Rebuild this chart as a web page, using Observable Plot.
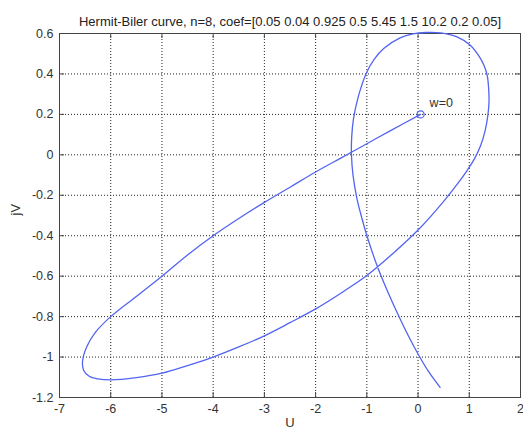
<!DOCTYPE html>
<html><head><meta charset="utf-8">
<script src="https://cdn.jsdelivr.net/npm/d3@7"></script>
<script src="https://cdn.jsdelivr.net/npm/@observablehq/plot@0.6"></script>
<style>body{margin:0;background:#fff;}</style>
</head><body><div id="chart"></div>
<script>
const titleText = "Hermit-Biler curve, n=8, coef=[0.05 0.04 0.925 0.5 5.45 1.5 10.2 0.2 0.05]";
const xLabel = "U";
const yLabel = "jV";
const startLabel = "w=0";
const xTicks = [-7, -6, -5, -4, -3, -2, -1, 0, 1, 2];
const yTicks = [-1.2, -1, -0.8, -0.6, -0.4, -0.2, 0, 0.2, 0.4, 0.6];
const curveU = [0.05, -0.5, -1.0, -1.5, -2.0, -2.5, -3.0, -3.5, -4.0, -4.5, -5.0, -5.5, -6.0, -6.3, -6.47, -6.55,
  -6.53, -6.42, -6.25, -6.0, -5.5, -5.0, -4.5, -4.0, -3.5, -3.0, -2.5, -2.0, -1.5, -1.0, -0.5, 0.0,
  0.5, 0.75, 0.95, 1.1, 1.22, 1.31, 1.36, 1.385, 1.38, 1.35, 1.29, 1.22, 1.02, 0.76, 0.44, 0.15, -0.1,
  -0.35, -0.67, -0.85, -1.0, -1.16, -1.26, -1.295, -1.30, -1.27, -1.19, -1.1, -1.0, -0.8, -0.6, -0.4, -0.2, 0.0, 0.2, 0.43];
const curveV = [0.2, 0.125, 0.055, -0.015, -0.085, -0.16, -0.235, -0.315, -0.4, -0.495, -0.6, -0.7, -0.8, -0.878, -0.95, -1.02,
  -1.065, -1.095, -1.108, -1.113, -1.102, -1.08, -1.042, -1.0, -0.95, -0.895, -0.83, -0.762, -0.683, -0.597, -0.49, -0.372,
  -0.23, -0.15, -0.08, -0.02, 0.045, 0.12, 0.19, 0.26, 0.32, 0.393, 0.44, 0.476, 0.542, 0.583, 0.603, 0.605, 0.598,
  0.578, 0.526, 0.475, 0.41, 0.294, 0.179, 0.09, 0.0, -0.1, -0.22, -0.31, -0.399, -0.548, -0.672, -0.785, -0.89, -0.985, -1.07, -1.15];
const startU = 0.05, startV = 0.2;

const W = 523, H = 435, mT = 33, mB = 38, mL = 59, mR = 3;
const innerW = W - mL - mR, innerH = H - mT - mB, tk = 5;
const curve = curveU.map((u, i) => ({u, v: curveV[i]}));
const fmt = d => String(+d.toFixed(1));
const txt = "#333";
const blue = "#5264f2";

const chart = Plot.plot({
  width: W, height: H,
  marginTop: mT, marginBottom: mB, marginLeft: mL, marginRight: mR,
  style: {fontFamily: "Liberation Sans, Arial, sans-serif", fontSize: "12px", color: txt, background: "#fff"},
  x: {domain: [-7, 2], label: null},
  y: {domain: [-1.2, 0.6], label: null},
  marks: [
    Plot.ruleX(xTicks.slice(1, -1), {stroke: "#222", strokeDasharray: "1,2", strokeWidth: 1}),
    Plot.ruleY(yTicks.slice(1, -1), {stroke: "#222", strokeDasharray: "1,2", strokeWidth: 1}),
    Plot.tickX(xTicks, {x: d => d, insetTop: innerH - tk, stroke: "#444"}),
    Plot.tickX(xTicks, {x: d => d, insetBottom: innerH - tk, stroke: "#444"}),
    Plot.tickY(yTicks, {y: d => d, insetRight: innerW - tk, stroke: "#444"}),
    Plot.tickY(yTicks, {y: d => d, insetLeft: innerW - tk, stroke: "#444"}),
    Plot.frame({stroke: "#444", strokeWidth: 1}),
    Plot.axisX(xTicks, {tickSize: 0, tickPadding: 7, tickFormat: fmt, fontSize: 12.5, fill: txt, label: null}),
    Plot.axisY(yTicks, {tickSize: 0, tickPadding: 6, tickFormat: fmt, fontSize: 12.5, fill: txt, label: null}),
    Plot.line(curve, {x: "u", y: "v", curve: "catmull-rom", stroke: blue, strokeWidth: 1.3}),
    Plot.dot([{u: startU, v: startV}], {x: "u", y: "v", r: 3.5, stroke: blue, strokeWidth: 1.3, fill: "none"}),
    Plot.text([startLabel], {x: startU, y: startV, text: d => d, dx: 9, dy: -11, textAnchor: "start", fontSize: 12.5, fill: txt}),
    Plot.text([titleText], {frameAnchor: "top", dy: -17, text: d => d, fontSize: 13, fill: "#222"}),
    Plot.text([xLabel], {frameAnchor: "bottom", dy: 29, text: d => d, fontSize: 13, fill: txt}),
    Plot.text([yLabel], {frameAnchor: "left", dx: -44, rotate: -90, text: d => d, fontSize: 13, fill: txt})
  ]
});
document.getElementById("chart").appendChild(chart);
</script>
</body></html>
